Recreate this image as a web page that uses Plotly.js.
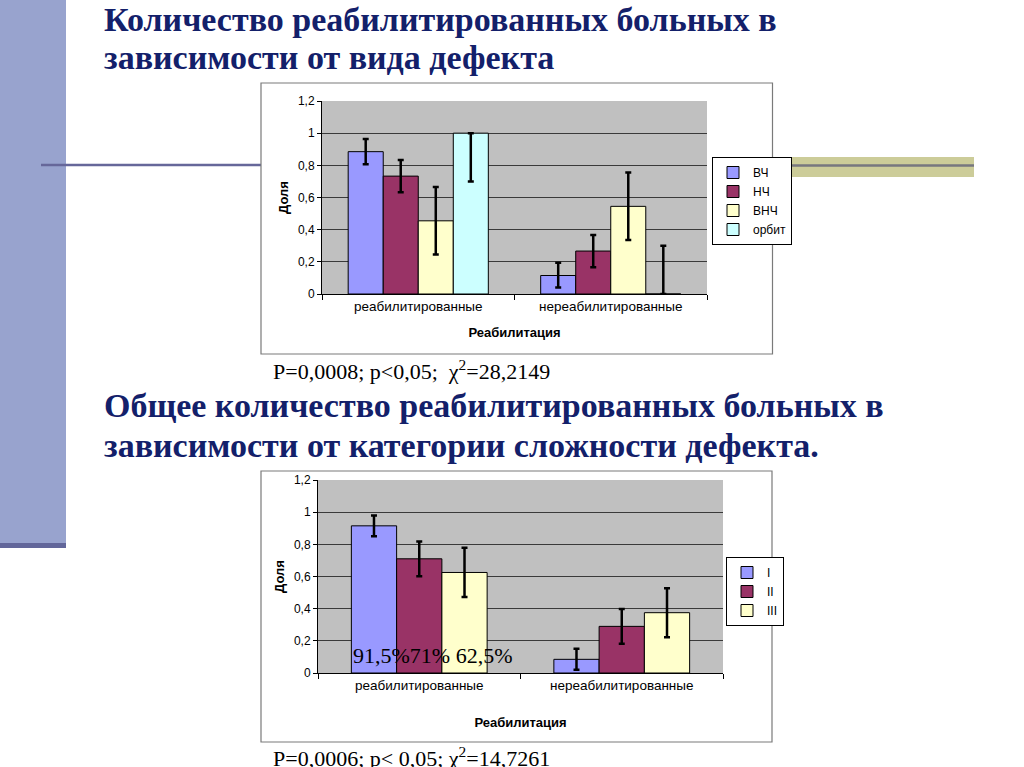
<!DOCTYPE html>
<html>
<head>
<meta charset="utf-8">
<script src="https://cdn.plot.ly/plotly-3.0.1.min.js"></script>
<style>html,body{margin:0;padding:0;background:#fff;}#chart{width:1024px;height:767px;}</style>
</head>
<body>
<div id="chart"></div>
<script>
// ---- data ----
const categories = ['реабилитированные', 'нереабилитированные'];
const yTickVals = [0, 0.2, 0.4, 0.6, 0.8, 1, 1.2];
const yTickText = ['0', '0,2', '0,4', '0,6', '0,8', '1', '1,2'];

// chart 1: by defect type
const defectNames = ['ВЧ', 'НЧ', 'ВНЧ', 'орбит'];
const valVCH = [0.885, 0.115];
const errVCHplus = [0.078, 0.080];
const errVCHminus = [0.078, 0.075];
const valNCH = [0.733, 0.267];
const errNCHplus = [0.10, 0.10];
const errNCHminus = [0.10, 0.10];
const valVNCH = [0.455, 0.545];
const errVNCHplus = [0.21, 0.21];
const errVNCHminus = [0.21, 0.21];
const valOrbit = [1.0, 0];
const errOrbitPlus = [0, 0.3];
const errOrbitMinus = [0.3, 0];

// chart 2: by complexity category
const complexityNames = ['I', 'II', 'III'];
const valI = [0.915, 0.085];
const errI = [0.065, 0.065];
const valII = [0.71, 0.29];
const errII = [0.108, 0.108];
const valIII = [0.625, 0.375];
const errIII = [0.153, 0.152];

const title1 = ['Количество реабилитированных больных в', 'зависимости от вида дефекта'];
const title2 = ['Общее количество реабилитированных больных в', 'зависимости от категории сложности дефекта.'];
const stats1 = 'P=0,0008; p&lt;0,05;  χ<sup>2</sup>=28,2149';
const stats2 = 'P=0,0006; p&lt; 0,05; χ<sup>2</sup>=14,7261';
const percentLabel = '91,5%71% 62,5%';

// ---- styles ----
const W = 1024, H = 767;
const px = v => v / W;
const py = v => 1 - v / H;
const colors1 = ['#9999FF', '#993366', '#FFFFCC', '#CCFFFF'];
const colors2 = ['#9999FF', '#993366', '#FFFFCC'];
const sans = 'Arial, "Liberation Sans", sans-serif';
const serif = '"Times New Roman", "Liberation Serif", serif';
const navy = '#13206A';

function barTrace(name, y, plus, minus, color, xa, ya, legend, width, offset) {
  return {
    type: 'bar', name: name, x: categories, y: y,
    xaxis: xa, yaxis: ya, legend: legend,
    width: width, offset: offset,
    marker: {color: color, line: {color: '#000', width: 1}},
    error_y: {type: 'data', symmetric: false, array: plus, arrayminus: minus,
              color: '#000', thickness: 2.5, width: 3},
    hoverinfo: 'skip'
  };
}

const w1 = 0.182, w2 = 0.2235;
const traces = [
  barTrace(defectNames[0], valVCH, errVCHplus, errVCHminus, colors1[0], 'x', 'y', 'legend', w1, -2 * w1),
  barTrace(defectNames[1], valNCH, errNCHplus, errNCHminus, colors1[1], 'x', 'y', 'legend', w1, -w1),
  barTrace(defectNames[2], valVNCH, errVNCHplus, errVNCHminus, colors1[2], 'x', 'y', 'legend', w1, 0),
  barTrace(defectNames[3], valOrbit, errOrbitPlus, errOrbitMinus, colors1[3], 'x', 'y', 'legend', w1, w1),
  barTrace(complexityNames[0], valI, errI, errI, colors2[0], 'x2', 'y2', 'legend2', w2, -1.5 * w2),
  barTrace(complexityNames[1], valII, errII, errII, colors2[1], 'x2', 'y2', 'legend2', w2, -0.5 * w2),
  barTrace(complexityNames[2], valIII, errIII, errIII, colors2[2], 'x2', 'y2', 'legend2', w2, 0.5 * w2)
];

function xAxis(domain, anchor, standoff) {
  return {
    domain: domain, anchor: anchor, type: 'category',
    showline: true, linecolor: '#000', linewidth: 1,
    ticks: 'outside', tickson: 'boundaries', ticklen: 5, tickcolor: '#000',
    tickfont: {family: sans, size: 13.5, color: '#000'},
    showgrid: false, fixedrange: true,
    title: {text: 'Реабилитация', standoff: standoff,
            font: {family: sans, size: 13, color: '#000', weight: 700}}
  };
}
function yAxis(domain, anchor) {
  return {
    domain: domain, anchor: anchor, range: [0, 1.2],
    tickvals: yTickVals, ticktext: yTickText,
    showgrid: true, gridcolor: '#3a3a3a', gridwidth: 1, zeroline: false,
    showline: true, linecolor: '#000', linewidth: 1,
    ticks: 'outside', ticklen: 4, tickcolor: '#000',
    tickfont: {family: sans, size: 12, color: '#000'}, fixedrange: true,
    title: {text: 'Доля', standoff: 6,
            font: {family: sans, size: 13, color: '#000', weight: 700}}
  };
}

const shapes = [
  // left decorative bar
  {type: 'rect', xref: 'paper', yref: 'paper', x0: 0, x1: px(66), y0: py(0), y1: py(543),
   fillcolor: '#98A3CE', line: {width: 0}, layer: 'below'},
  {type: 'rect', xref: 'paper', yref: 'paper', x0: 0, x1: px(66), y0: py(543), y1: py(548),
   fillcolor: '#62669A', line: {width: 0}, layer: 'below'},
  // right khaki band
  {type: 'rect', xref: 'paper', yref: 'paper', x0: px(773), x1: px(974), y0: py(157), y1: py(177),
   fillcolor: '#CCCC99', line: {width: 0}, layer: 'below'},
  // horizontal rule, left and right parts
  {type: 'line', xref: 'paper', yref: 'paper', x0: px(41), x1: px(261), y0: py(165), y1: py(165),
   line: {color: '#66679A', width: 2.5}, layer: 'below'},
  {type: 'line', xref: 'paper', yref: 'paper', x0: px(773), x1: px(974), y0: py(165.5), y1: py(165.5),
   line: {color: '#77777F', width: 2.5}, layer: 'below'},
  // chart frames
  {type: 'rect', xref: 'paper', yref: 'paper', x0: px(261), x1: px(772.5), y0: py(83), y1: py(354),
   line: {color: '#7a7a7a', width: 1.2}, fillcolor: 'rgba(0,0,0,0)', layer: 'below'},
  {type: 'rect', xref: 'paper', yref: 'paper', x0: px(261), x1: px(772), y0: py(471), y1: py(742),
   line: {color: '#7a7a7a', width: 1.2}, fillcolor: 'rgba(0,0,0,0)', layer: 'below'}
];

function textAnn(text, x, yMid, size, bold, color) {
  return {text: text, xref: 'paper', yref: 'paper', x: px(x), y: py(yMid),
          xanchor: 'left', yanchor: 'middle', showarrow: false,
          font: {family: serif, size: size, color: color, weight: bold ? 700 : 400}};
}

const annotations = [
  textAnn(title1[0], 102, 19, 34, true, navy),
  textAnn(title1[1], 102, 58, 34, true, navy),
  textAnn(stats1, 271, 370, 22, false, '#000'),
  textAnn(title2[0], 102, 406, 34, true, navy),
  textAnn(title2[1], 102, 445, 34, true, navy),
  textAnn(percentLabel, 351, 655, 22, false, '#000'),
  textAnn(stats2, 271, 757, 22, false, '#000')
];

const legendBase = {
  xanchor: 'left', yanchor: 'top', bgcolor: '#fff', bordercolor: '#000', borderwidth: 1,
  font: {family: sans, size: 12, color: '#000'}, tracegroupgap: 0, itemclick: false, itemdoubleclick: false
};

const layout = {
  width: W, height: H,
  margin: {l: 0, r: 0, t: 0, b: 0},
  paper_bgcolor: '#fff', plot_bgcolor: '#C0C0C0',
  showlegend: true,
  xaxis: xAxis([px(322), px(707)], 'y', 14),
  yaxis: yAxis([py(294), py(101)], 'x'),
  xaxis2: xAxis([px(318), px(723)], 'y2', 25),
  yaxis2: yAxis([py(673), py(480)], 'x2'),
  legend: Object.assign({}, legendBase, {x: px(712), y: py(157)}),
  legend2: Object.assign({}, legendBase, {x: px(726), y: py(557)}),
  shapes: shapes,
  annotations: annotations
};

Plotly.newPlot('chart', traces, layout, {displayModeBar: false, staticPlot: true});
</script>
</body>
</html>
